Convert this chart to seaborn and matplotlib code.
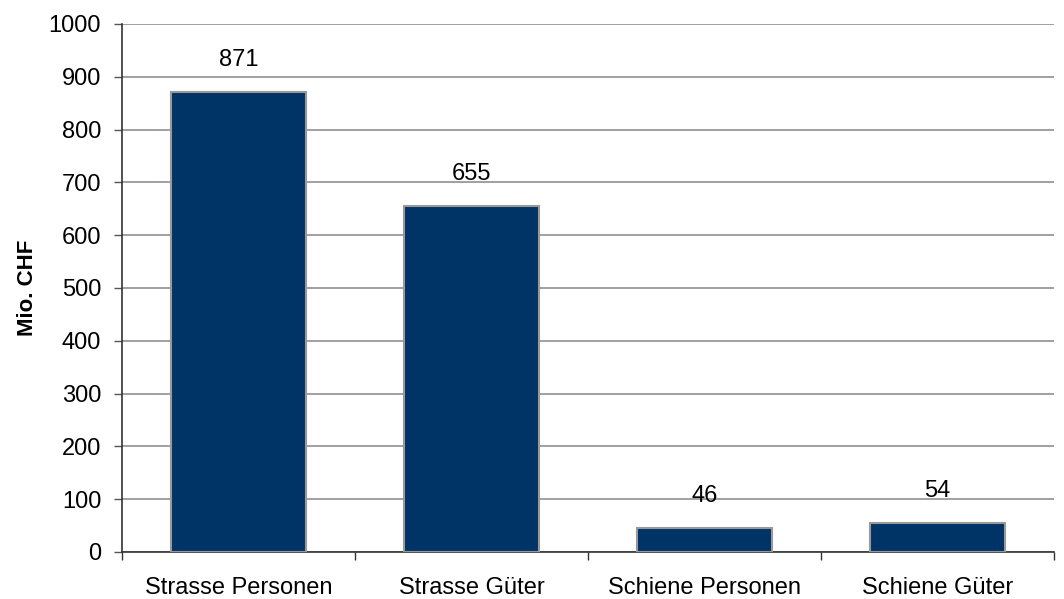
import pandas as pd
import seaborn as sns
import matplotlib.pyplot as plt

kategorien = ["Strasse Personen", "Strasse Güter", "Schiene Personen", "Schiene Güter"]
werte = [871, 655, 46, 54]

df = pd.DataFrame({"Kategorie": kategorien, "Wert": werte})

sns.set_style("white")
plt.rcParams["font.family"] = ["Liberation Sans", "DejaVu Sans"]

fig = plt.figure(figsize=(10.64, 5.99), dpi=100)
ax = fig.add_axes([0.1147, 0.0785, 0.876, 0.8815])

sns.barplot(data=df, x="Kategorie", y="Wert", color="#003366", saturation=1,
            width=0.58, edgecolor="#999999", linewidth=1.5, ax=ax, zorder=3)

for i, v in enumerate(werte):
    ax.text(i, v + 40, str(v), ha="center", va="bottom", fontsize=17, color="black")

ax.set_ylim(0, 1000)
ax.set_xlim(-0.5, 3.5)
ax.set_yticks(range(0, 1001, 100))
ax.yaxis.grid(True, color="#999999", linewidth=1.3, zorder=0)
ax.tick_params(axis="y", labelsize=17, length=6, width=1, color="#555555",
               labelcolor="black", direction="out", left=True, pad=9)

ax.set_xticks([0, 1, 2, 3])
ax.set_xticklabels(kategorien, fontsize=17)
ax.tick_params(axis="x", length=0, pad=18, labelcolor="black")
ax.set_xticks([-0.5, 0.5, 1.5, 2.5, 3.5], minor=True)
ax.tick_params(axis="x", which="minor", length=6, width=1, color="#333333",
               direction="out", bottom=True)

ax.set_xlabel("")
ax.set_ylabel("Mio. CHF", fontsize=16, fontweight="bold", labelpad=8, color="black")

for s in ["top", "right"]:
    ax.spines[s].set_visible(False)
for s in ["left", "bottom"]:
    ax.spines[s].set_color("#333333")
    ax.spines[s].set_linewidth(1.2)

fig.savefig("out.png", dpi=100)
